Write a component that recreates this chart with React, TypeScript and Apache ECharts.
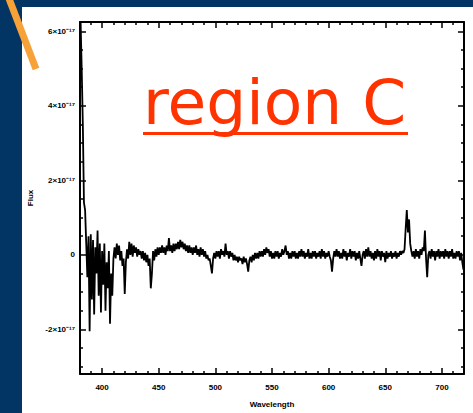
import React, { useEffect, useRef } from "react";
import * as echarts from "echarts";

// Sampling grid of the spectrum (nm): 381 .. 719, 1 nm apart
const wavelengthStart = 381;
const wavelengthStep = 1;

// Flux values (units of 1e-17), one per nm
const fluxValues = [
  6.3, 5.0, 3.5, 1.4, 1.2, 0.3, -0.6, 0.5, -2.05, 0.55,
  -1.2, 0.4, -1.6, 0.2, -0.5, 0.65, -1.1, 0.3, -1.55, 0.1,
  -0.8, 0.3, -1.5, -0.2, -0.9, 0.1, -1.85, -0.5, -1.1, -0.1,
  0.2, -0.1, 0.3, 0.0, 0.25, -0.15, 0.1, -0.3, -0.1, -1.05,
  -0.2, 0.15, -0.1, 0.35, 0.0, 0.3, -0.05, 0.25, 0.05, 0.2,
  -0.05, 0.15, 0.0, 0.1, -0.1, 0.1, -0.15, 0.05, -0.2, 0.0,
  -0.3, -0.1, -0.9, -0.5, 0.1, -0.15, 0.15, -0.05, 0.2, 0.0,
  0.2, 0.05, 0.25, 0.05, 0.2, 0.0, 0.25, 0.1, 0.45, 0.1,
  0.25, 0.05, 0.3, 0.1, 0.3, 0.15, 0.35, 0.15, 0.4, 0.2,
  0.35, 0.15, 0.3, 0.1, 0.25, 0.05, 0.25, 0.05, 0.2, 0.0,
  0.2, 0.05, 0.25, 0.0, 0.15, -0.05, 0.2, 0.0, 0.15, -0.05,
  0.1, -0.1, 0.0, -0.15, -0.1, -0.3, -0.5, -0.1, 0.05, -0.1,
  0.1, -0.05, 0.1, -0.1, 0.15, 0.0, 0.1, -0.05, 0.3, 0.0,
  0.1, -0.1, 0.1, -0.05, 0.05, -0.15, 0.0, -0.15, -0.05, -0.2,
  -0.05, -0.15, -0.1, -0.25, -0.05, -0.2, -0.1, -0.25, -0.45, -0.15,
  -0.05, -0.2, 0.0, -0.15, 0.05, -0.1, 0.05, -0.1, 0.1, -0.05,
  0.1, -0.05, 0.15, 0.0, 0.2, 0.05, 0.15, -0.05, 0.1, -0.1,
  0.05, -0.1, 0.1, -0.05, 0.1, -0.1, 0.05, -0.05, 0.15, 0.0,
  0.1, 0.25, 0.0, 0.1, -0.1, 0.05, -0.1, 0.1, -0.05, 0.1,
  -0.1, 0.05, -0.1, 0.1, -0.05, 0.15, -0.05, 0.1, -0.1, 0.05,
  -0.05, 0.15, -0.1, 0.05, -0.1, 0.1, -0.05, 0.1, -0.1, 0.05,
  -0.05, 0.1, -0.1, 0.15, -0.05, 0.1, -0.1, 0.05, -0.05, 0.1,
  -0.05, -0.15, -0.45, -0.1, 0.1, -0.05, 0.15, -0.05, 0.1, -0.1,
  0.05, -0.1, 0.15, -0.05, 0.1, -0.15, 0.05, -0.05, 0.15, -0.1,
  0.1, -0.05, 0.1, -0.15, 0.05, -0.1, 0.1, -0.1, -0.3, 0.0,
  0.1, -0.1, 0.15, -0.05, 0.2, -0.05, 0.1, -0.1, 0.05, -0.15,
  0.1, -0.1, 0.15, -0.05, 0.1, -0.15, 0.1, -0.05, 0.05, -0.2,
  0.1, -0.1, 0.05, -0.05, 0.1, -0.1, 0.05, -0.05, 0.1, -0.1,
  0.05, -0.05, 0.1, 0.0, 0.1, 0.05, 0.15, 0.7, 1.2, 0.6,
  0.95, 0.3, 0.1, -0.05, 0.1, -0.1, 0.15, -0.05, 0.1, -0.1,
  0.15, 0.0, 0.2, 0.1, 0.65, -0.1, -0.6, 0.0, 0.1, -0.1,
  0.15, -0.05, 0.1, -0.15, 0.1, -0.05, 0.15, -0.1, 0.1, -0.05,
  0.1, -0.1, 0.15, -0.05, 0.1, -0.1, 0.1, -0.05, 0.15, -0.1,
  0.05, -0.1, 0.1, -0.05, 0.1, -0.15, 0.05, -0.2, -0.4,
];

const xMajorTicks = [400, 450, 500, 550, 600, 650, 700];
const xMinorTicks = [
  390, 410, 420, 430, 440, 460, 470, 480, 490, 510, 520, 530, 540, 560, 570,
  580, 590, 610, 620, 630, 640, 660, 670, 680, 690, 710,
];
const yMajorTicks = [-2, 0, 2, 4, 6];
const yMinorTicks = [-3, -2.5, -1.5, -1, -0.5, 0.5, 1, 1.5, 2.5, 3, 3.5, 4.5, 5, 5.5];

const xMin = 380.5;
const xMax = 719.5;
const yMin = -3.2;
const yMax = 6.25;

const xTitle = "Wavelength";
const yTitle = "Flux";
const overlayText = "region C";

const labelFont = {
  fontSize: 8,
  fontWeight: "bold" as const,
  color: "#000",
  fontFamily: "Liberation Sans, Arial, sans-serif",
};

function makeX(position: "top" | "bottom", ticks: number[], major: boolean) {
  return {
    type: "value",
    gridIndex: 0,
    position,
    min: xMin,
    max: xMax,
    axisLine: {
      show: major,
      onZero: false,
      lineStyle: { color: "#000", width: 2 },
    },
    axisTick: {
      show: true,
      inside: true,
      length: major ? 6 : 3,
      customValues: ticks,
      lineStyle: { color: "#000", width: 1.5 },
    },
    axisLabel: {
      show: major && position === "bottom",
      customValues: ticks,
      margin: 9,
      ...labelFont,
    },
    splitLine: { show: false },
    name: major && position === "bottom" ? xTitle : "",
    nameLocation: "middle",
    nameGap: 26,
    nameTextStyle: { ...labelFont },
  };
}

function makeY(position: "left" | "right", ticks: number[], major: boolean) {
  return {
    type: "value",
    gridIndex: 0,
    position,
    min: yMin,
    max: yMax,
    axisLine: {
      show: major,
      onZero: false,
      lineStyle: { color: "#000", width: 2 },
    },
    axisTick: {
      show: true,
      inside: true,
      length: major ? 6 : 3,
      customValues: ticks,
      lineStyle: { color: "#000", width: 1.5 },
    },
    axisLabel: {
      show: major && position === "left",
      customValues: ticks,
      margin: 5,
      formatter: (v: number) => (v === 0 ? "0" : `${v}×10⁻¹⁷`),
      ...labelFont,
    },
    splitLine: { show: false },
    name: major && position === "left" ? yTitle : "",
    nameLocation: "middle",
    nameGap: 42,
    nameTextStyle: { ...labelFont },
  };
}

export default function App() {
  const ref = useRef<HTMLDivElement>(null);

  useEffect(() => {
    if (!ref.current) return;
    const chart = echarts.init(ref.current, undefined, { renderer: "svg" });
    const data = fluxValues.map((v, i) => [wavelengthStart + i * wavelengthStep, v]);
    chart.setOption({
      animation: false,
      backgroundColor: "transparent",
      grid: { left: 80, top: 22, right: 9, bottom: 39, containLabel: false },
      xAxis: [
        makeX("bottom", xMajorTicks, true),
        makeX("bottom", xMinorTicks, false),
        makeX("top", xMajorTicks, true),
        makeX("top", xMinorTicks, false),
      ],
      yAxis: [
        makeY("left", yMajorTicks, true),
        makeY("left", yMinorTicks, false),
        makeY("right", yMajorTicks, true),
        makeY("right", yMinorTicks, false),
      ],
      series: [
        {
          type: "line",
          xAxisIndex: 0,
          yAxisIndex: 0,
          data,
          showSymbol: false,
          symbol: "none",
          clip: true,
          lineStyle: { color: "#000", width: 1.8 },
          z: 3,
        },
      ],
      graphic: [
        {
          type: "line",
          z: 100,
          shape: { x1: 8, y1: -4, x2: 36, y2: 69 },
          style: { stroke: "#f7a239", lineWidth: 7 },
        },
        {
          type: "text",
          z: 100,
          x: 143,
          y: 102,
          style: {
            text: overlayText,
            fill: "#ff3300",
            font: "63px 'DejaVu Sans', Verdana, sans-serif",
            verticalAlign: "middle",
            align: "left",
          },
        },
        {
          type: "rect",
          z: 100,
          shape: { x: 143, y: 132, width: 265, height: 3 },
          style: { fill: "#ff3300" },
        },
      ],
    });
    return () => chart.dispose();
  }, []);

  return (
    <div
      style={{
        position: "fixed",
        left: 0,
        top: 0,
        width: 473,
        height: 413,
        background: "#023464",
        overflow: "hidden",
      }}
    >
      <div
        style={{
          position: "absolute",
          left: 22,
          top: 7,
          width: 451,
          height: 406,
          background: "#ffffff",
        }}
      />
      <div
        ref={ref}
        style={{ position: "absolute", left: 0, top: 0, width: 473, height: 413 }}
      />
    </div>
  );
}
